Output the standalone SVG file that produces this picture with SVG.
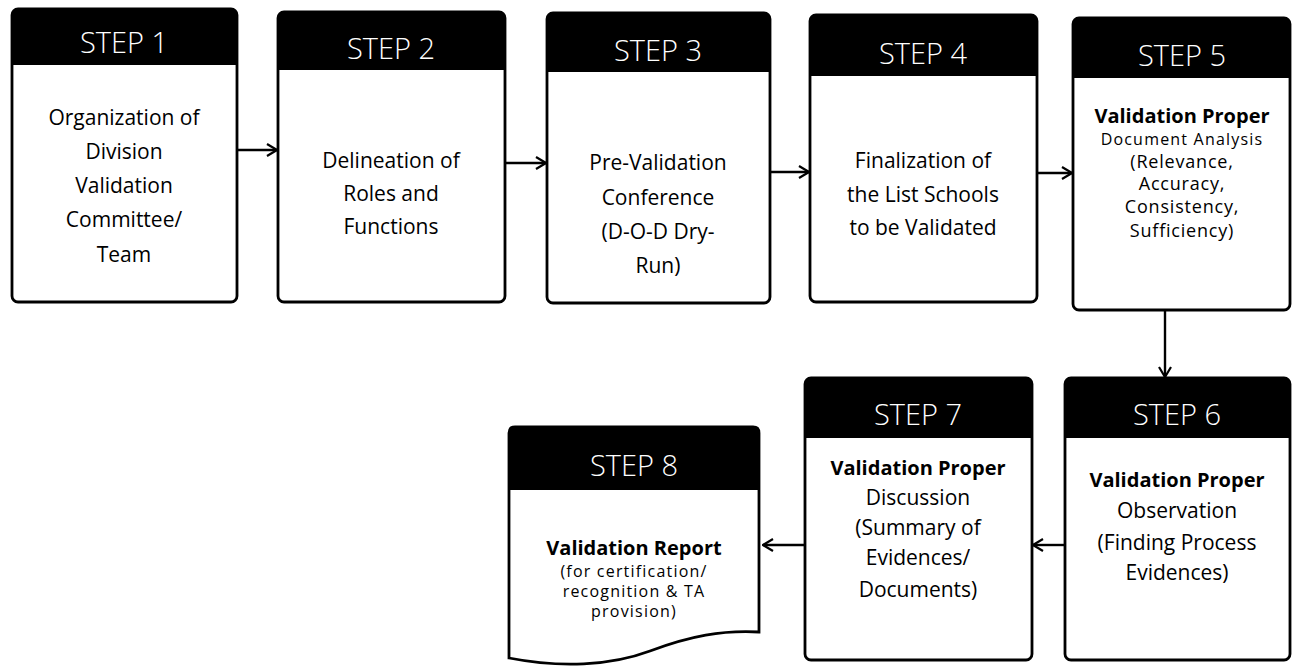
<svg xmlns="http://www.w3.org/2000/svg" width="1293" height="672" viewBox="0 0 1293 672">
<style>
.box{fill:#fff;stroke:#000;stroke-width:2.8}
.hdr{fill:#000}
.ht{font-family:"Open Sans","Liberation Sans",sans-serif;font-weight:300;font-size:29px;fill:#fff;text-anchor:middle}
.t{font-family:"Open Sans","Liberation Sans",sans-serif;font-size:21px;fill:#000;text-anchor:middle}
.b{font-family:"Open Sans","Liberation Sans",sans-serif;font-size:20px;font-weight:700;fill:#000;text-anchor:middle}
.s{font-family:"Open Sans","Liberation Sans",sans-serif;font-size:18px;letter-spacing:0.8px;fill:#000;text-anchor:middle}
.xs{font-family:"Open Sans","Liberation Sans",sans-serif;font-size:16px;letter-spacing:1.2px;fill:#000;text-anchor:middle}
.c{fill:none;stroke:#000;stroke-width:2.4;marker-end:url(#ah)}
</style>
<defs>
<marker id="ah" viewBox="0 0 12 14" refX="11" refY="7" markerWidth="12" markerHeight="14" markerUnits="userSpaceOnUse" orient="auto">
<path d="M1,1 L11,7 L1,13" fill="none" stroke="#000" stroke-width="2.2"/>
</marker>
</defs>
<rect width="1293" height="672" fill="#fff"/>

<g id="connectors">
<line class="c" x1="237" y1="150" x2="277" y2="150"/>
<line class="c" x1="505" y1="163" x2="546" y2="163"/>
<line class="c" x1="770" y1="172" x2="809" y2="172"/>
<line class="c" x1="1037" y1="173" x2="1072" y2="173"/>
<line class="c" x1="1165" y1="310" x2="1165" y2="377"/>
<line class="c" x1="1065" y1="545" x2="1033" y2="545"/>
<line class="c" x1="805" y1="545" x2="763" y2="545"/>
</g>

<g id="step1">
<rect class="box" x="12" y="9" width="225" height="293" rx="6"/>
<path class="hdr" d="M12,65 V15 Q12,9 18,9 H231 Q237,9 237,15 V65 Z"/>
<text class="ht" x="124" y="53">STEP 1</text>
<text class="t" x="124" y="125">Organization of</text>
<text class="t" x="124" y="159">Division</text>
<text class="t" x="124" y="193">Validation</text>
<text class="t" x="124" y="227">Committee/</text>
<text class="t" x="124" y="262">Team</text>
</g>

<g id="step2">
<rect class="box" x="278" y="12" width="227" height="290" rx="6"/>
<path class="hdr" d="M278,70 V18 Q278,12 284,12 H499 Q505,12 505,18 V70 Z"/>
<text class="ht" x="391" y="59">STEP 2</text>
<text class="t" x="391" y="168">Delineation of</text>
<text class="t" x="391" y="201">Roles and</text>
<text class="t" x="391" y="234">Functions</text>
</g>

<g id="step3">
<rect class="box" x="547" y="13" width="223" height="290" rx="6"/>
<path class="hdr" d="M547,72 V19 Q547,13 553,13 H764 Q770,13 770,19 V72 Z"/>
<text class="ht" x="658" y="61">STEP 3</text>
<text class="t" x="658" y="170">Pre-Validation</text>
<text class="t" x="658" y="205">Conference</text>
<text class="t" x="658" y="239">(D-O-D Dry-</text>
<text class="t" x="658" y="273">Run)</text>
</g>

<g id="step4">
<rect class="box" x="810" y="15" width="227" height="287" rx="6"/>
<path class="hdr" d="M810,76 V21 Q810,15 816,15 H1031 Q1037,15 1037,21 V76 Z"/>
<text class="ht" x="923" y="64">STEP 4</text>
<text class="t" x="923" y="168">Finalization of</text>
<text class="t" x="923" y="202">the List Schools</text>
<text class="t" x="923" y="235">to be Validated</text>
</g>

<g id="step5">
<rect class="box" x="1073" y="18" width="217" height="292" rx="6"/>
<path class="hdr" d="M1073,78 V24 Q1073,18 1079,18 H1284 Q1290,18 1290,24 V78 Z"/>
<text class="ht" x="1182" y="66">STEP 5</text>
<text class="b" x="1182" y="123">Validation Proper</text>
<text class="xs" x="1182" y="145">Document Analysis</text>
<text class="s" x="1182" y="168">(Relevance,</text>
<text class="s" x="1182" y="190">Accuracy,</text>
<text class="s" x="1182" y="213">Consistency,</text>
<text class="s" x="1182" y="237">Sufficiency)</text>
</g>

<g id="step6">
<rect class="box" x="1065" y="378" width="225" height="282" rx="6"/>
<path class="hdr" d="M1065,438 V384 Q1065,378 1071,378 H1284 Q1290,378 1290,384 V438 Z"/>
<text class="ht" x="1177" y="425">STEP 6</text>
<text class="b" x="1177" y="487">Validation Proper</text>
<text class="t" x="1177" y="518">Observation</text>
<text class="t" x="1177" y="550">(Finding Process</text>
<text class="t" x="1177" y="580">Evidences)</text>
</g>

<g id="step7">
<rect class="box" x="805" y="378" width="227" height="282" rx="6"/>
<path class="hdr" d="M805,438 V384 Q805,378 811,378 H1026 Q1032,378 1032,384 V438 Z"/>
<text class="ht" x="918" y="425">STEP 7</text>
<text class="b" x="918" y="475">Validation Proper</text>
<text class="t" x="918" y="505">Discussion</text>
<text class="t" x="918" y="535">(Summary of</text>
<text class="t" x="918" y="565">Evidences/</text>
<text class="t" x="918" y="597">Documents)</text>
</g>

<g id="step8">
<path class="box" d="M509,433 Q509,427 515,427 H753 Q759,427 759,433 V632 C722,630 690,636 650,651 C610,666 560,668 509,658 Z"/>
<path class="hdr" d="M509,490 V433 Q509,427 515,427 H753 Q759,427 759,433 V490 Z"/>
<text class="ht" x="634" y="476">STEP 8</text>
<text class="b" x="634" y="555">Validation Report</text>
<text class="xs" x="634" y="577">(for certification/</text>
<text class="xs" x="634" y="597">recognition &amp; TA</text>
<text class="xs" x="634" y="617">provision)</text>
</g>
</svg>
